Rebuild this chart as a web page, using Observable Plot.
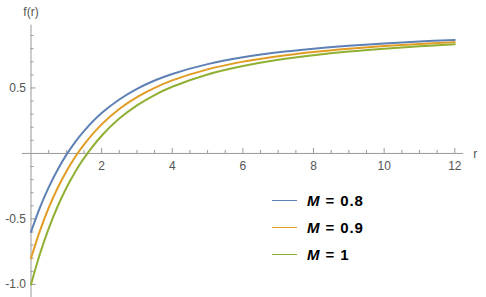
<!DOCTYPE html>
<html>
<head>
<meta charset="utf-8">
<script src="https://cdn.jsdelivr.net/npm/d3@7"></script>
<script src="https://cdn.jsdelivr.net/npm/@observablehq/plot@0.6"></script>
<style>
  html, body { margin: 0; padding: 0; background: #fff; }
  #wrap { position: relative; width: 486px; height: 297px; font-family: "Liberation Sans", Arial, sans-serif; }
  #legend { position: absolute; left: 272px; top: 187.2px; font-family: "Liberation Sans", Arial, sans-serif; font-weight: bold; font-size: 15px; letter-spacing: 0.9px; color: #000; }
  .row { display: flex; align-items: center; height: 27px; }
  .sw { width: 25px; height: 1.6px; margin-right: 10px; }
</style>
</head>
<body>
<div id="wrap"><div id="legend"></div></div>
<script>
// Data
const r = [0, 0.25, 0.5, 0.75, 1, 1.25, 1.5, 2, 2.5, 3, 3.5, 4, 5, 6, 7, 8, 9, 10, 11, 12];
const fM08 = [-0.600, -0.416, -0.259, -0.126, -0.011, 0.087, 0.171, 0.308, 0.412, 0.493, 0.557, 0.607, 0.682, 0.734, 0.772, 0.800, 0.822, 0.840, 0.855, 0.867];
const fM09 = [-0.800, -0.593, -0.416, -0.266, -0.138, -0.027, 0.068, 0.222, 0.339, 0.430, 0.501, 0.558, 0.642, 0.701, 0.743, 0.775, 0.800, 0.820, 0.836, 0.850];
const fM1  = [-1.000, -0.770, -0.574, -0.407, -0.264, -0.142, -0.036, 0.135, 0.266, 0.367, 0.446, 0.509, 0.603, 0.667, 0.715, 0.750, 0.778, 0.800, 0.818, 0.833];
const seriesNames = ["M = 0.8", "M = 0.9", "M = 1"];
const colors = ["#5E81B5", "#E19C24", "#8FB032"];
const xMajor = [2, 4, 6, 8, 10, 12];
const xMinor = [0.5, 1, 1.5, 2.5, 3, 3.5, 4.5, 5, 5.5, 6.5, 7, 7.5, 8.5, 9, 9.5, 10.5, 11, 11.5];
const yMajor = [-1.0, -0.5, 0.5];
const yMinor = [-0.9, -0.8, -0.7, -0.6, -0.4, -0.3, -0.2, -0.1, 0.1, 0.2, 0.3, 0.4, 0.6, 0.7, 0.8, 0.9];

const allSeries = [fM08, fM09, fM1];
const rows = [];
allSeries.forEach((vals, k) => vals.forEach((v, i) => rows.push({r: r[i], f: v, s: seriesNames[k]})));

const axisColor = "#999999";
const labelColor = "#555555";

const chart = Plot.plot({
  width: 486,
  height: 297,
  marginLeft: 30.5,
  marginRight: 31.7,
  marginTop: 24.6,
  marginBottom: 0,
  style: {fontFamily: "'Liberation Sans', Arial, sans-serif", fontSize: "12px", background: "#fff", overflow: "visible"},
  x: {domain: [0, 12], axis: null},
  y: {domain: [-1.1, 0.98], axis: null},
  color: {domain: seriesNames, range: colors},
  marks: [
    Plot.ruleY([0], {x1: -0.25, x2: 12.25, stroke: axisColor, strokeWidth: 1}),
    Plot.ruleX([0], {y1: -1.1, y2: 0.98, stroke: axisColor, strokeWidth: 1}),
    Plot.ruleX(xMajor, {x: d => d, y1: 0, y2: 0, insetTop: -5, stroke: axisColor}),
    Plot.ruleX(xMinor, {x: d => d, y1: 0, y2: 0, insetTop: -3, stroke: axisColor}),
    Plot.ruleY(yMajor, {y: d => d, x1: 0, x2: 0, insetRight: -5, stroke: axisColor}),
    Plot.ruleY(yMinor, {y: d => d, x1: 0, x2: 0, insetRight: -3, stroke: axisColor}),
    Plot.text(xMajor, {x: d => d, y: 0, dy: 13, text: d => String(d), fill: labelColor, fontSize: 12}),
    Plot.text(yMajor, {x: 0, y: d => d, dx: -5, textAnchor: "end", text: d => (d < 0 ? "-" : "") + Math.abs(d).toFixed(1), fill: labelColor, fontSize: 12}),
    Plot.line(rows, {x: "r", y: "f", z: "s", stroke: "s", strokeWidth: 2, curve: "catmull-rom"}),
    Plot.text(["r"], {x: 12, y: 0, dx: 20.5, dy: 1, text: d => d, fill: labelColor, fontSize: 12}),
    Plot.text(["f(r)"], {x: 0, y: 0.98, dy: -13, text: d => d, fill: labelColor, fontSize: 12})
  ]
});
document.getElementById("wrap").prepend(chart);

const legend = document.getElementById("legend");
seriesNames.forEach((name, k) => {
  const row = document.createElement("div");
  row.className = "row";
  const sw = document.createElement("div");
  sw.className = "sw";
  sw.style.background = colors[k];
  const t = document.createElement("span");
  t.innerHTML = "<i>M</i>" + name.slice(1);
  row.appendChild(sw);
  row.appendChild(t);
  legend.appendChild(row);
});
</script>
</body>
</html>
